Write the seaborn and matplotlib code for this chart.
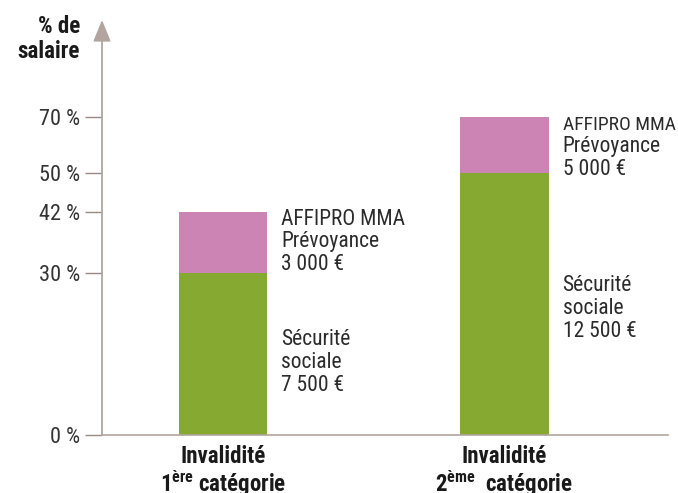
import numpy as np
import pandas as pd
import matplotlib
matplotlib.use("Agg")
import matplotlib.pyplot as plt
import seaborn as sns

# data
categories = ["Invalidité\n1$^{\\mathbf{ère}}$ catégorie",
              "Invalidité\n2$^{\\mathbf{ème}}$  catégorie"]
secu_pct = [30, 50]          # Sécurité sociale, % de salaire
total_pct = [42, 70]         # with AFFIPRO MMA Prévoyance on top
secu_eur = ["7 500 €", "12 500 €"]
affipro_eur = ["3 000 €", "5 000 €"]
ytick_values = [0, 30, 42, 50, 70]
ytick_labels = ["0 %", "30 %", "42 %", "50 %", "70 %"]

green = "#86a932"
pink = "#cc84b4"
axis_col = "#b3a4a0"
tick_col = "#9b8984"

sns.set_theme(style="white")
plt.rcParams["font.family"] = ["Roboto Condensed", "Roboto", "DejaVu Sans"]
plt.rcParams["mathtext.fontset"] = "custom"
plt.rcParams["mathtext.bf"] = "Roboto Condensed:bold"
plt.rcParams["mathtext.rm"] = "Roboto Condensed"

df = pd.DataFrame({"cat": categories, "secu": secu_pct, "total": total_pct})

# schematic (non linear) axis of the original, piecewise linear through the ticks
knots_v = [-50, 0, 30, 42, 50, 70, 100, 200]
knots_p = [-270, 0, 162, 223, 262, 318, 415, 700]
fwd = lambda v: np.interp(v, knots_v, knots_p)
inv = lambda p: np.interp(p, knots_p, knots_v)

fig = plt.figure(figsize=(6.78, 4.93), dpi=100)
ax = fig.add_axes([102/678, 58/493, 566/678, 415/493])
ax.set_yscale("function", functions=(fwd, inv))

bw = 0.313
sns.barplot(data=df, x="cat", y="total", color=pink, width=bw, saturation=1,
            linewidth=0, ax=ax)
sns.barplot(data=df, x="cat", y="secu", color=green, width=bw, saturation=1,
            linewidth=0, ax=ax)

ax.set_ylim(0, 100)
ax.set_xlim(-0.43, 1.581)
ax.set_yticks(ytick_values)
ax.set_yticklabels(ytick_labels)
ax.yaxis.set_minor_locator(matplotlib.ticker.NullLocator())
ax.tick_params(axis="y", left=True, length=12.2, width=1, color=tick_col,
               labelsize=16, labelcolor="#333333", pad=3.5)
ax.set_xticks([])
ax.set_xlabel("")
ax.set_ylabel("")

for s in ["top", "right", "left"]:
    ax.spines[s].set_visible(False)
ax.spines["bottom"].set_color(axis_col)
ax.spines["bottom"].set_linewidth(1.2)

# vertical axis with arrow head
ax.annotate("", xy=(0, 1), xycoords="axes fraction", xytext=(0, 0),
            textcoords="axes fraction",
            arrowprops=dict(arrowstyle="-|>,head_length=1.1,head_width=0.45",
                            color=axis_col, lw=1.3, shrinkA=0, shrinkB=0))

fig.text(80/678, 1 - 33/493, "% de", ha="right", va="baseline",
         fontsize=16.5, fontweight="bold", color="#1a1a1a")
fig.text(80/678, 1 - 58/493, "salaire", ha="right", va="baseline",
         fontsize=16.5, fontweight="bold", color="#1a1a1a")

head_size = [15.5, 14]   # the right-hand "AFFIPRO MMA" is squeezed in the original
for i, cat in enumerate(categories):
    line1, line2 = cat.split("\n")
    ax.annotate(line1, xy=(i, 0), xytext=(0, -20.2), textcoords="offset points",
                ha="center", va="baseline", fontsize=16.5, fontweight="bold",
                color="#1a1a1a", annotation_clip=False)
    ax.annotate(line2, xy=(i, 0), xytext=(0, -41), textcoords="offset points",
                ha="center", va="baseline", fontsize=16.5, fontweight="bold",
                color="#1a1a1a", annotation_clip=False)
    xt = i + bw / 2 + 0.05
    ax.annotate("AFFIPRO MMA", xy=(xt, total_pct[i]),
                xytext=(0, -9.5), textcoords="offset points", ha="left", va="baseline",
                fontsize=head_size[i], color="#2b2b2b")
    ax.annotate("Prévoyance\n" + affipro_eur[i], xy=(xt, total_pct[i]),
                xytext=(0, -14), textcoords="offset points", ha="left", va="top",
                fontsize=15.5, color="#2b2b2b", linespacing=1.12)
    ax.annotate("Sécurité\nsociale\n" + secu_eur[i], xy=(xt, secu_pct[i] / 2),
                xytext=(0, -6), textcoords="offset points", ha="left", va="center",
                fontsize=15.5, color="#2b2b2b", linespacing=1.12)

fig.savefig("out.png", dpi=100)
